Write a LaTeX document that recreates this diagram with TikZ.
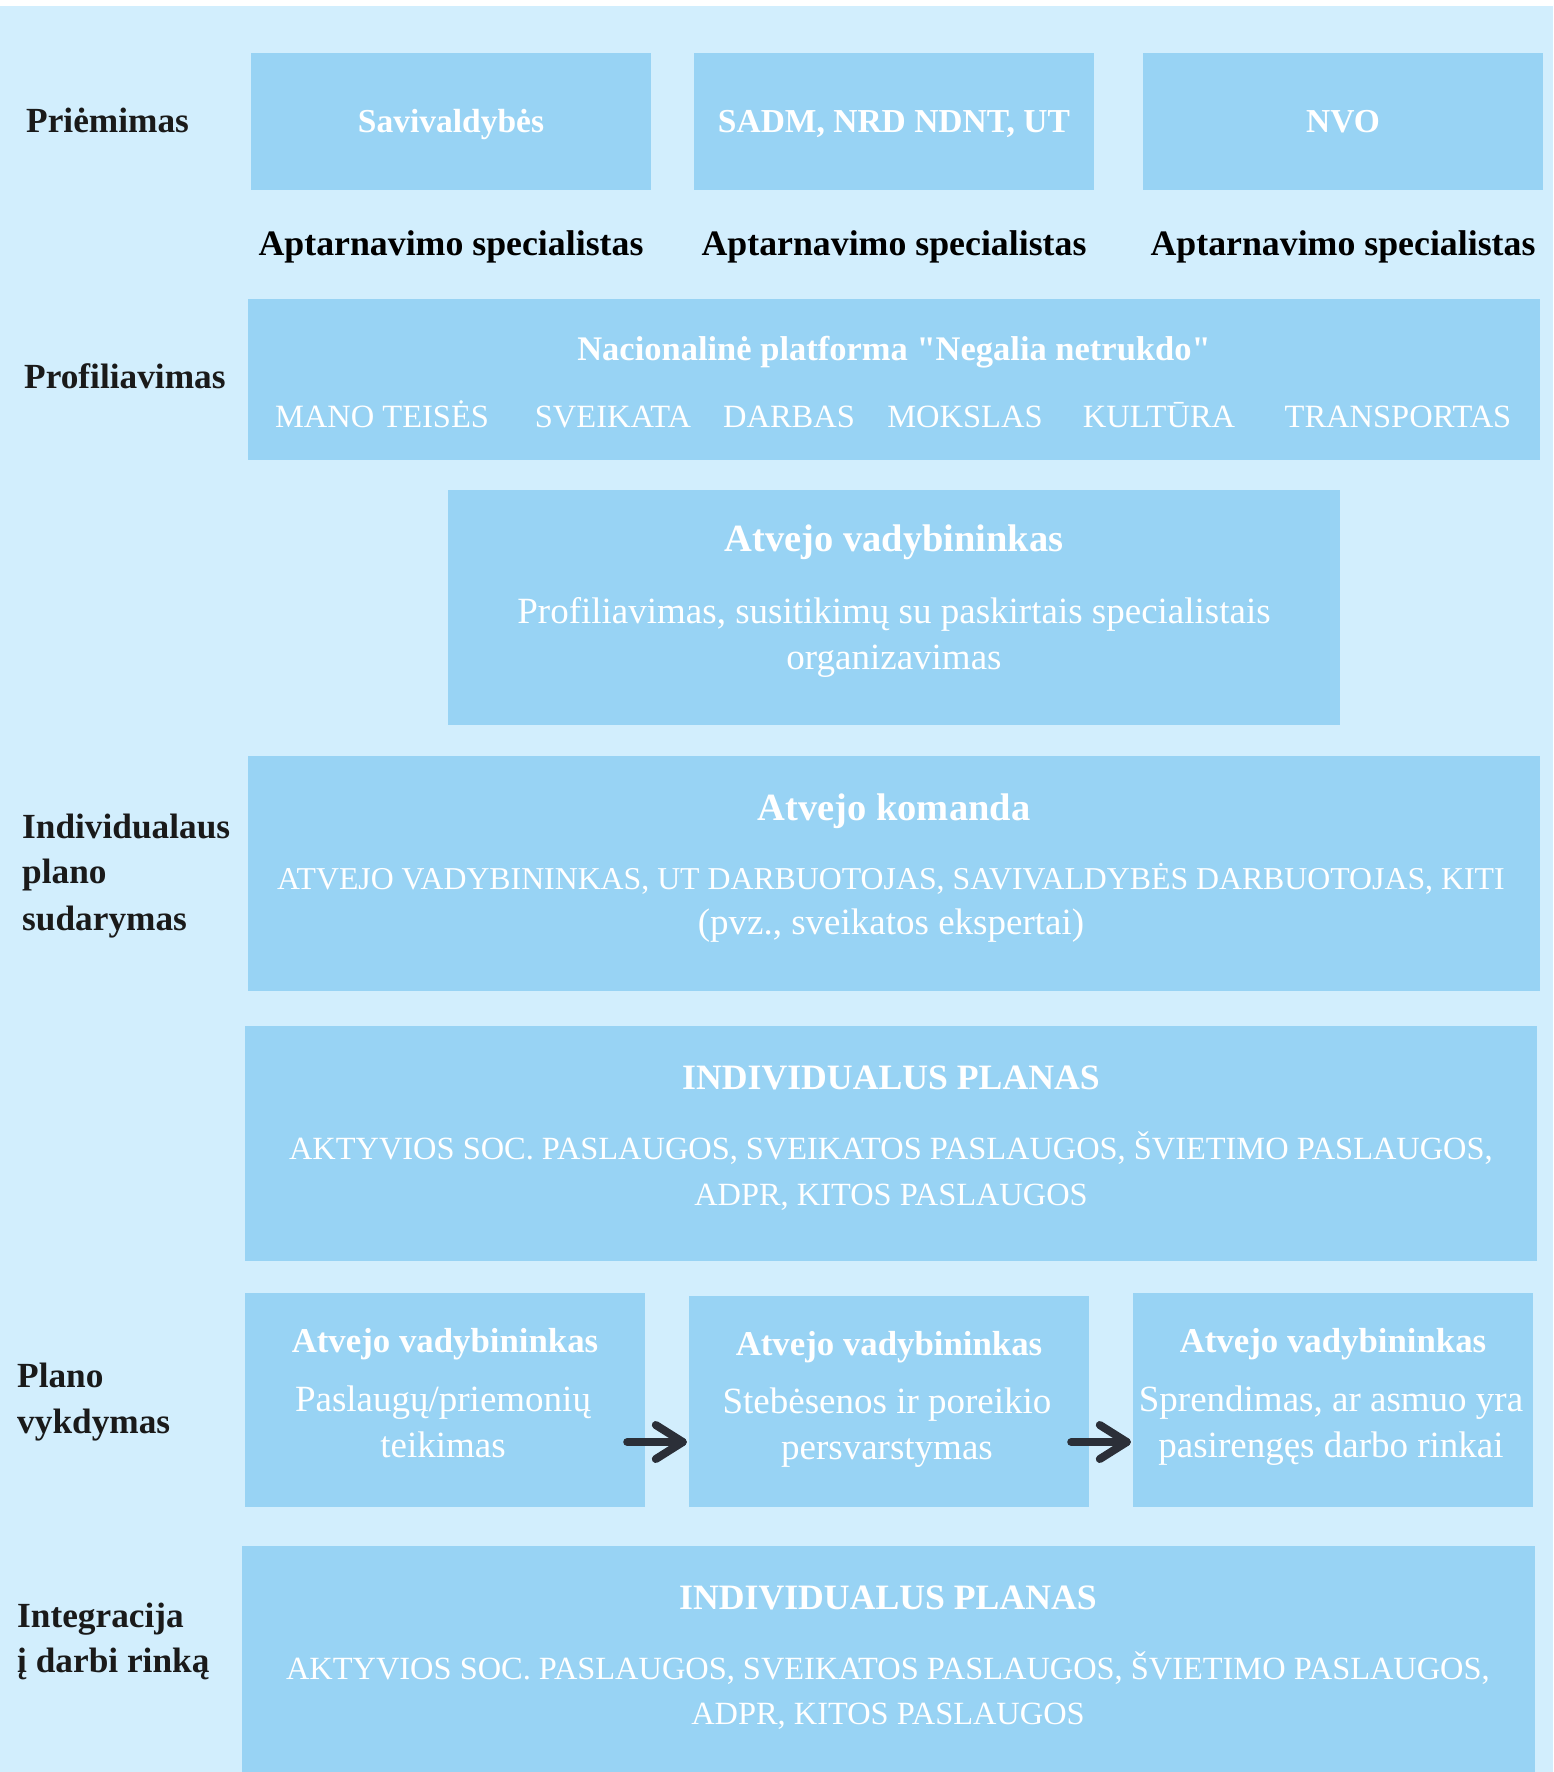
\documentclass[tikz,border=0pt]{standalone}
\usepackage{fontspec}
\setmainfont{Liberation Serif}
\newcommand{\sq}{\XeTeXglyph\XeTeXcharglyph"22\relax}
\definecolor{bgc}{HTML}{D2EEFD}
\definecolor{boxc}{HTML}{98D3F4}
\definecolor{labc}{HTML}{1A1A1A}
\definecolor{arrc}{HTML}{2B2F38}
\tikzset{
  x=1pt, y=-1pt,
  box/.style={fill=boxc, draw=none, inner sep=0, rectangle},
  lbl/.style={anchor=base west, inner sep=0, text=labc, font=\fontsize{35.3}{44}\selectfont\bfseries},
  spec/.style={anchor=base, inner sep=0, text=black, font=\fontsize{35.8}{44}\selectfont\bfseries},
  ttop/.style={anchor=base, inner sep=0, text=white, font=\fontsize{33.5}{40}\selectfont\bfseries},
  tbig/.style={anchor=base, inner sep=0, text=white, font=\fontsize{38.5}{46}\selectfont\bfseries},
  tmid/.style={anchor=base, inner sep=0, text=white, font=\fontsize{35.7}{42}\selectfont\bfseries},
  tsm/.style={anchor=base, inner sep=0, text=white, font=\fontsize{34.8}{42}\selectfont\bfseries},
  body/.style={anchor=base, inner sep=0, text=white, font=\fontsize{37}{44}\selectfont},
  caps/.style={anchor=base, inner sep=0, text=white, font=\fontsize{32.4}{40}\selectfont},
  arr/.style={draw=arrc, line width=8pt, line cap=round, line join=round}
}
\begin{document}
\begin{tikzpicture}
\useasboundingbox (0,0) rectangle (1553,1772);
\fill[white] (0,0) rectangle (1553,1772);
\fill[bgc] (0,6) rectangle (1553,1772);

% Row 1
\node[box, minimum width=400pt, minimum height=137pt] (a1) at (451,121.5) {};
\node[box, minimum width=400pt, minimum height=137pt] (a2) at (894,121.5) {};
\node[box, minimum width=400pt, minimum height=137pt] (a3) at (1343,121.5) {};
\node[lbl] (l1) at (26,132) {Priėmimas};
\node[ttop] (a1t) at (451,132) {Savivaldybės};
\node[ttop] (a2t) at (894,132) {SADM, NRD NDNT, UT};
\node[ttop] (a3t) at (1343,132) {NVO};
\node[spec] (s1) at (451,255) {Aptarnavimo specialistas};
\node[spec] (s2) at (894,255) {Aptarnavimo specialistas};
\node[spec] (s3) at (1343,255) {Aptarnavimo specialistas};

% Profiliavimas
\node[box, minimum width=1292pt, minimum height=161pt] (p) at (894,379.5) {};
\node[lbl] (l2) at (24,388) {Profiliavimas};
\node[anchor=base, inner sep=0, text=white, font=\fontsize{34.5}{42}\selectfont\bfseries] (pt) at (894,360) {Nacionalinė platforma \sq Negalia netrukdo\sq};
\node[caps, font=\fontsize{32.5}{40}\selectfont] (p1) at (382,427) {MANO TEISĖS};
\node[caps, font=\fontsize{32.5}{40}\selectfont] (p2) at (613,427) {SVEIKATA};
\node[caps, font=\fontsize{32.5}{40}\selectfont] (p3) at (789,427) {DARBAS};
\node[caps, font=\fontsize{32.5}{40}\selectfont] (p4) at (965,427) {MOKSLAS};
\node[caps, font=\fontsize{32.5}{40}\selectfont] (p5) at (1159,427) {KULTŪRA};
\node[caps, font=\fontsize{32.5}{40}\selectfont] (p6) at (1398,427) {TRANSPORTAS};

% Atvejo vadybininkas
\node[box, minimum width=892pt, minimum height=235pt] (av) at (894,607.5) {};
\node[tbig] (avt) at (894,551) {Atvejo vadybininkas};
\node[body] (av1) at (894,623) {Profiliavimas, susitikimų su paskirtais specialistais};
\node[body] (av2) at (894,669) {organizavimas};

% Atvejo komanda
\node[box, minimum width=1292pt, minimum height=235pt] (ak) at (894,873.5) {};
\node[lbl] (l3a) at (22,838) {Individualaus};
\node[lbl] (l3b) at (22,883) {plano};
\node[lbl] (l3c) at (22,930) {sudarymas};
\node[tbig] (akt) at (894,820) {Atvejo komanda};
\node[caps, font=\fontsize{31.8}{40}\selectfont] (ak1) at (891,889) {ATVEJO VADYBININKAS, UT DARBUOTOJAS, SAVIVALDYBĖS DARBUOTOJAS, KITI};
\node[body] (ak2) at (891,934) {(pvz., sveikatos ekspertai)};

% Individualus planas 1
\node[box, minimum width=1292pt, minimum height=235pt] (ip) at (891,1143.5) {};
\node[tmid] (ipt) at (891,1089) {INDIVIDUALUS PLANAS};
\node[caps] (ip1) at (891,1159) {AKTYVIOS SOC. PASLAUGOS, SVEIKATOS PASLAUGOS, ŠVIETIMO PASLAUGOS,};
\node[caps] (ip2) at (891,1205) {ADPR, KITOS PASLAUGOS};

% Plano vykdymas
\node[box, minimum width=400pt, minimum height=214pt] (b1) at (445,1400) {};
\node[box, minimum width=400pt, minimum height=211pt] (b2) at (889,1401.5) {};
\node[box, minimum width=400pt, minimum height=214pt] (b3) at (1333,1400) {};
\node[lbl] (l4a) at (17,1387) {Plano};
\node[lbl] (l4b) at (17,1433) {vykdymas};
\node[tsm] (b1t) at (445,1352) {Atvejo vadybininkas};
\node[body] (b11) at (443,1411) {Paslaugų/priemonių};
\node[body] (b12) at (443,1457) {teikimas};
\node[tsm] (b2t) at (889,1355) {Atvejo vadybininkas};
\node[body] (b21) at (887,1413) {Stebėsenos ir poreikio};
\node[body] (b22) at (887,1459) {persvarstymas};
\node[tsm] (b3t) at (1333,1352) {Atvejo vadybininkas};
\node[body] (b31) at (1331,1411) {Sprendimas, ar asmuo yra};
\node[body] (b32) at (1331,1457) {pasirengęs darbo rinkai};

\coordinate (r1s) at ([xshift=-18pt]b1.east |- 0,1442);
\coordinate (r1e) at ([xshift=-6pt]b2.west |- 0,1442);
\coordinate (r2s) at ([xshift=-18pt]b2.east |- 0,1442);
\coordinate (r2e) at ([xshift=-6pt]b3.west |- 0,1442);
\draw[arr] (r1s) -- (r1e);
\draw[arr] ([shift={(-27,-17)}]r1e) -- (r1e) -- ([shift={(-27,17)}]r1e);
\draw[arr] (r2s) -- (r2e);
\draw[arr] ([shift={(-27,-17)}]r2e) -- (r2e) -- ([shift={(-27,17)}]r2e);

% Integracija
\node[box, minimum width=1293pt, minimum height=226pt] (ip2b) at (888.5,1659) {};
\node[lbl] (l5a) at (17,1627) {Integracija};
\node[lbl] (l5b) at (17,1672) {į darbi rinką};
\node[tmid] (ip2t) at (888,1609) {INDIVIDUALUS PLANAS};
\node[caps] (ip21) at (888,1679) {AKTYVIOS SOC. PASLAUGOS, SVEIKATOS PASLAUGOS, ŠVIETIMO PASLAUGOS,};
\node[caps] (ip22) at (888,1724) {ADPR, KITOS PASLAUGOS};
\end{tikzpicture}
\end{document}
